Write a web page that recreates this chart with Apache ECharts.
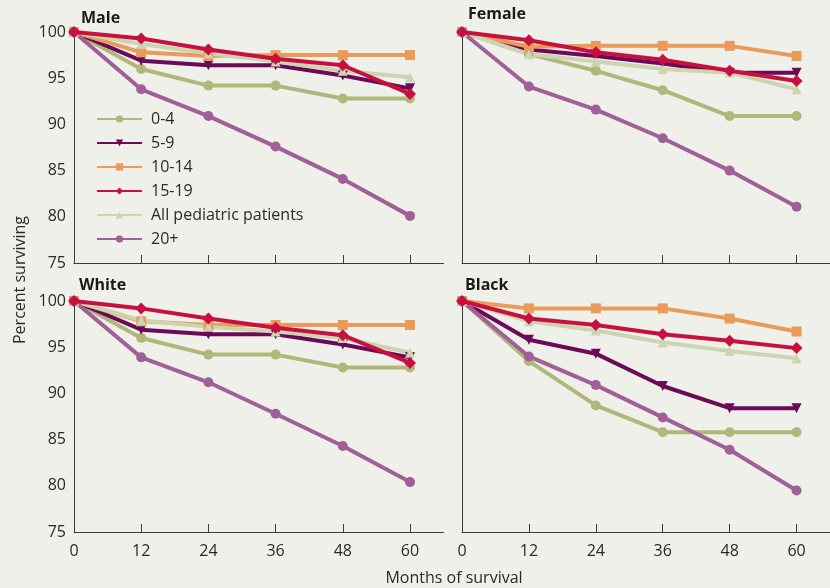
<!DOCTYPE html>
<html>
<head>
<meta charset="utf-8">
<script src="https://cdn.jsdelivr.net/npm/echarts@6/dist/echarts.min.js"></script>
<style>
  html, body { margin: 0; padding: 0; background: #eef0e9; }
  #chart { width: 830px; height: 588px; }
</style>
</head>
<body>
<div id="chart"></div>
<script>
const months = [0, 12, 24, 36, 48, 60];
const groups = ['0-4', '5-9', '10-14', '15-19', 'All pediatric patients', '20+'];
const panelTitles = ['Male', 'Female', 'White', 'Black'];
const yTicks = [75, 80, 85, 90, 95, 100];

// rows follow the order of groups
const male = [
  [100, 96.0, 94.2, 94.2, 92.8, 92.8],
  [100, 96.9, 96.4, 96.4, 95.3, 93.9],
  [100, 97.8, 97.4, 97.5, 97.5, 97.5],
  [100, 99.3, 98.1, 97.1, 96.4, 93.3],
  [100, 98.7, 97.7, 96.8, 95.8, 95.1],
  [100, 93.8, 90.9, 87.6, 84.1, 80.1]
];
const female = [
  [100, 97.6, 95.8, 93.7, 90.9, 90.9],
  [100, 98.1, 97.4, 96.6, 95.6, 95.6],
  [100, 98.4, 98.5, 98.5, 98.5, 97.4],
  [100, 99.1, 97.8, 97.0, 95.8, 94.7],
  [100, 97.6, 96.8, 96.0, 95.6, 93.8],
  [100, 94.1, 91.6, 88.5, 85.0, 81.1]
];
const white = [
  [100, 96.0, 94.2, 94.2, 92.8, 92.8],
  [100, 96.9, 96.4, 96.4, 95.3, 93.9],
  [100, 97.8, 97.4, 97.4, 97.4, 97.4],
  [100, 99.2, 98.1, 97.1, 96.3, 93.3],
  [100, 97.9, 97.2, 96.7, 96.0, 94.4],
  [100, 93.9, 91.2, 87.8, 84.3, 80.4]
];
const black = [
  [100, 93.5, 88.7, 85.8, 85.8, 85.8],
  [100, 95.8, 94.3, 90.8, 88.4, 88.4],
  [100, 99.2, 99.2, 99.2, 98.1, 96.7],
  [100, 98.1, 97.4, 96.4, 95.7, 94.9],
  [100, 97.8, 96.8, 95.5, 94.6, 93.8],
  [100, 94.0, 90.9, 87.4, 83.9, 79.5]
];

const panels = [male, female, white, black];
const colors = ['#b1b77a', '#6b0a58', '#e99b5a', '#c8103f', '#cdd4b1', '#a15f98'];
const symbols = ['circle', 'triangle', 'rect', 'diamond', 'triangle', 'circle'];
const symbolRotate = [0, 180, 0, 0, 0, 0];
const symbolSizes = [10, 10, 10, 12, 10, 10];

const font = '"Open Sans", "Noto Sans", sans-serif';
const axisColor = '#3a3a3a';
const textColor = '#2a2a2a';

const chart = echarts.init(document.getElementById('chart'));

const grids = [
  { left: 74, top: 32, width: 369.6, height: 231 },
  { left: 462, top: 32, width: 369.6, height: 231 },
  { left: 74, top: 301, width: 369.6, height: 231 },
  { left: 462, top: 301, width: 369.6, height: 231 }
];

const xAxes = grids.map((g, i) => ({
  type: 'value',
  gridIndex: i,
  min: 0,
  max: 66,
  interval: 12,
  splitLine: { show: false },
  axisLine: { lineStyle: { color: axisColor, width: 1 } },
  axisTick: {
    show: true,
    inside: true,
    length: 8,
    customValues: months.slice(1),
    lineStyle: { color: axisColor }
  },
  axisLabel: {
    show: i >= 2,
    customValues: months,
    margin: 11,
    fontFamily: font,
    fontSize: 16,
    color: textColor
  }
}));

const yAxes = grids.map((g, i) => ({
  type: 'value',
  gridIndex: i,
  min: 75,
  max: 100,
  interval: 5,
  splitLine: { show: false },
  axisLine: { show: true, lineStyle: { color: axisColor, width: 1 } },
  axisTick: { show: false },
  axisLabel: {
    show: i % 2 === 0,
    customValues: yTicks,
    margin: 8,
    fontFamily: font,
    fontSize: 16,
    color: textColor
  }
}));

const series = [];
panels.forEach((rows, p) => {
  rows.forEach((vals, k) => {
    series.push({
      name: groups[k],
      type: 'line',
      xAxisIndex: p,
      yAxisIndex: p,
      data: months.map((m, j) => [m, vals[j]]),
      symbol: symbols[k],
      symbolSize: symbolSizes[k],
      symbolRotate: symbolRotate[k],
      showAllSymbol: true,
      z: k === 3 ? 4 : 2,
      lineStyle: { color: colors[k], width: 4 },
      itemStyle: { color: colors[k] }
    });
  });
});

const titlePos = [[81, 10], [468, 6], [79, 277], [465, 277]];

chart.setOption({
  backgroundColor: '#eef0e9',
  animation: false,
  textStyle: { fontFamily: font },
  title: panelTitles.map((t, i) => ({
    text: t,
    left: titlePos[i][0],
    top: titlePos[i][1],
    padding: 0,
    textStyle: { fontFamily: font, fontSize: 16, fontWeight: 'bold', color: '#1a1a1a' }
  })),
  legend: {
    orient: 'vertical',
    left: 91,
    top: 106,
    itemWidth: 45,
    itemHeight: 9,
    itemGap: 8,
    data: groups,
    textStyle: { fontFamily: font, fontSize: 16, lineHeight: 16, color: textColor, padding: [0, 0, 0, 4] }
  },
  grid: grids,
  xAxis: xAxes,
  yAxis: yAxes,
  series: series,
  graphic: [
    {
      type: 'text',
      x: 20,
      y: 280,
      rotation: Math.PI / 2,
      style: {
        text: 'Percent surviving',
        font: '16px "Open Sans", sans-serif',
        fill: textColor,
        align: 'center',
        verticalAlign: 'middle'
      }
    },
    {
      type: 'text',
      x: 454,
      y: 578,
      style: {
        text: 'Months of survival',
        font: '16px "Open Sans", sans-serif',
        fill: textColor,
        align: 'center',
        verticalAlign: 'middle'
      }
    }
  ]
});
</script>
</body>
</html>
